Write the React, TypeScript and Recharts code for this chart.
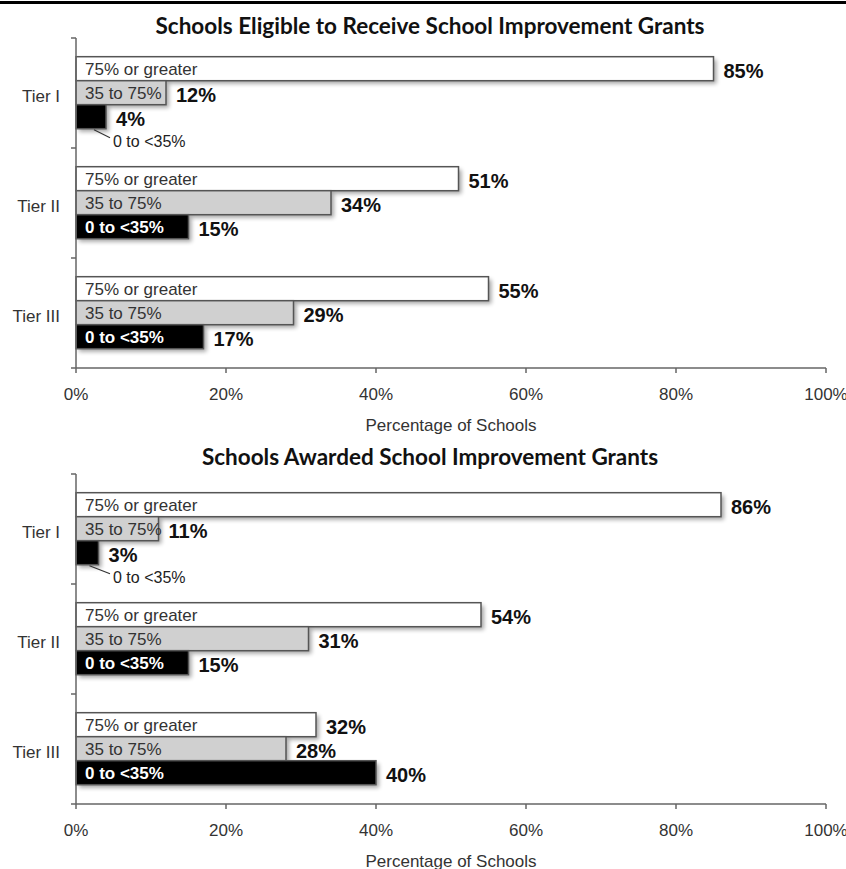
import React from 'react';
import { BarChart, Bar, XAxis, YAxis } from 'recharts';

const categories = ['Tier I', 'Tier II', 'Tier III'];
const seriesNames = ['75% or greater', '35 to 75%', '0 to <35%'];

const eligibleHigh = [85, 51, 55];
const eligibleMid = [12, 34, 29];
const eligibleLow = [4, 15, 17];

const awardedHigh = [86, 54, 32];
const awardedMid = [11, 31, 28];
const awardedLow = [3, 15, 40];

const xTicks = [0, 20, 40, 60, 80, 100];

const FONT = "'Liberation Sans', Arial, sans-serif";
const TITLE_FONT = "Lato, 'Open Sans', sans-serif";
const CHART_W = 846;
const CHART_H = 436;
const MARGIN = { top: 38, right: 20, bottom: 0, left: 0 };
const X_AXIS_H = 68;
const PLOT_H = CHART_H - MARGIN.top - MARGIN.bottom - X_AXIS_H;

const looks: Record<string, { fill: string; text: string; weight: string; name: string }> = {
  high: { fill: '#ffffff', text: '#333333', weight: 'normal', name: seriesNames[0] },
  mid: { fill: '#d0d0d0', text: '#333333', weight: 'normal', name: seriesNames[1] },
  low: { fill: '#000000', text: '#ffffff', weight: 'bold', name: seriesNames[2] },
};

function buildRows(high: number[], mid: number[], low: number[]) {
  return categories.map((tier, i) => ({ tier, high: high[i], mid: mid[i], low: low[i] }));
}

function BarShape(props: any) {
  const { x, y, width, height, kind, payload } = props;
  const look = looks[kind];
  const value = payload[kind];
  const cy = y + height / 2;
  // short black bars get their name below, with a leader line
  const outside = kind === 'low' && width < 60;
  return (
    <g>
      <defs>
        <filter id="barShadow" x="-20%" y="-40%" width="140%" height="200%">
          <feGaussianBlur stdDeviation="2" />
        </filter>
      </defs>
      <rect x={x + 3} y={y + 3} width={width} height={height} fill="#000" opacity={0.35} filter="url(#barShadow)" />
      <rect x={x} y={y} width={width} height={height} fill={look.fill} stroke="#555" strokeWidth={1.5} />
      {!outside ? (
        <text x={x + 9} y={cy + 1} dominantBaseline="central" fill={look.text} fontWeight={look.weight}
          fontSize={17} fontFamily={FONT}>
          {look.name}
        </text>
      ) : (
        <g>
          <line x1={x + width * 0.6} y1={y + height + 1} x2={x + 34} y2={y + height + 9} stroke="#333" strokeWidth={1.2} />
          <text x={x + 37} y={y + height + 13} dominantBaseline="central" fill="#222" fontSize={16} fontFamily={FONT}>
            {look.name}
          </text>
        </g>
      )}
      <text x={x + width + 10} y={cy + 2} dominantBaseline="central" fill="#111" fontWeight="bold"
        fontSize={20} fontFamily={FONT}>
        {value}%
      </text>
    </g>
  );
}

function TierTick(props: any) {
  const { x, y, payload, index } = props;
  const half = PLOT_H / categories.length / 2;
  return (
    <g>
      <text x={x - 16} y={y + 3} textAnchor="end" dominantBaseline="central" fill="#333" fontSize={17} fontFamily={FONT}>
        {payload.value}
      </text>
      <line x1={x - 5} x2={x} y1={y - half} y2={y - half} stroke="#666" strokeWidth={1.5} />
      {index === categories.length - 1 && (
        <line x1={x - 5} x2={x} y1={y + half} y2={y + half} stroke="#666" strokeWidth={1.5} />
      )}
    </g>
  );
}

function TierChart({ title, titleTop, rows }: { title: string; titleTop: number; rows: any[] }) {
  return (
    <div style={{ position: 'relative', width: CHART_W, height: CHART_H }}>
      <div style={{
        position: 'absolute', left: 430, top: titleTop, transform: 'translateX(-50%)', whiteSpace: 'nowrap',
        fontFamily: TITLE_FONT, fontWeight: 'bold', fontSize: 22.5, lineHeight: '24px', color: '#111',
      }}>
        {title}
      </div>
      <BarChart width={CHART_W} height={CHART_H} data={rows} layout="vertical" margin={MARGIN}
        barCategoryGap="17%" barGap={0}>
        <XAxis type="number" domain={[0, 100]} ticks={xTicks} interval={0} tickFormatter={(v) => `${v}%`}
          tick={{ fill: '#333', fontSize: 17, fontFamily: FONT }} tickSize={5} tickMargin={15}
          axisLine={{ stroke: '#666', strokeWidth: 1.5 }} tickLine={{ stroke: '#666', strokeWidth: 1.5 }}
          height={X_AXIS_H}
          label={{ value: 'Percentage of Schools', position: 'insideBottom', offset: 5, fill: '#333', fontSize: 17, fontFamily: FONT }} />
        <YAxis type="category" dataKey="tier" width={76} tickSize={0} tickMargin={0} tickLine={false}
          axisLine={{ stroke: '#666', strokeWidth: 1.5 }} tick={<TierTick />} />
        <Bar dataKey="high" isAnimationActive={false} shape={(p: any) => <BarShape {...p} kind="high" />} />
        <Bar dataKey="mid" isAnimationActive={false} shape={(p: any) => <BarShape {...p} kind="mid" />} />
        <Bar dataKey="low" isAnimationActive={false} shape={(p: any) => <BarShape {...p} kind="low" />} />
      </BarChart>
    </div>
  );
}

export default function App() {
  return (
    <div style={{ position: 'absolute', left: 0, top: 0, width: 846, height: 869, background: '#fff', overflow: 'hidden' }}>
      <div style={{ position: 'absolute', left: 0, top: 1, width: 846, height: 3, background: '#000' }} />
      <TierChart title="Schools Eligible to Receive School Improvement Grants" titleTop={14}
        rows={buildRows(eligibleHigh, eligibleMid, eligibleLow)} />
      <TierChart title="Schools Awarded School Improvement Grants" titleTop={9}
        rows={buildRows(awardedHigh, awardedMid, awardedLow)} />
    </div>
  );
}
